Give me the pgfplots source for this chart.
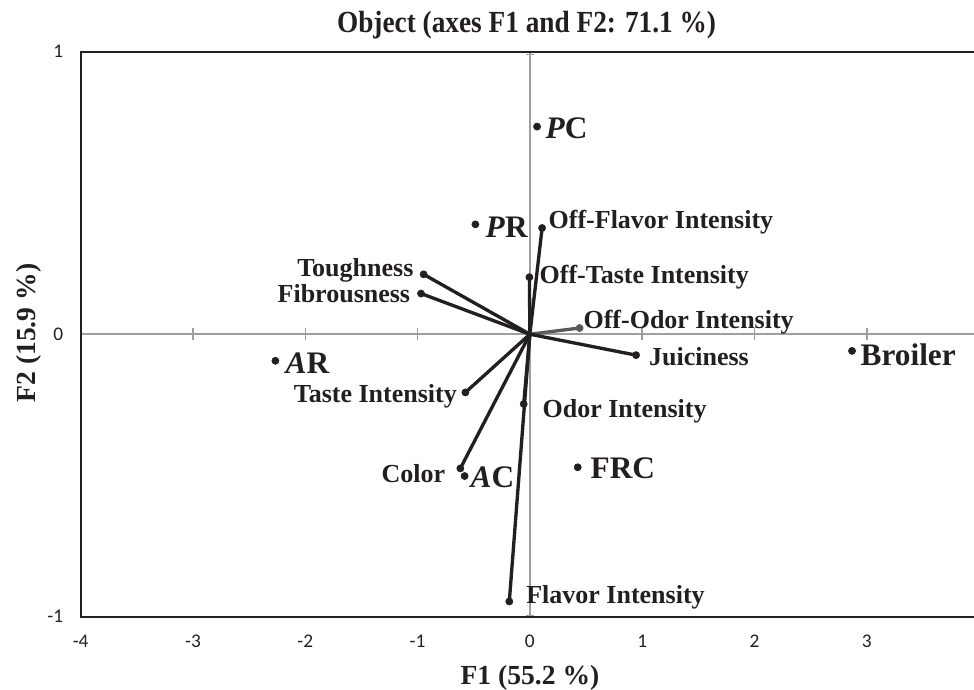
\documentclass[border=0pt]{standalone}
\usepackage{fontspec}
\setmainfont{Liberation Serif}
\newfontfamily\tickfont{Carlito}
\usepackage{pgfplots}
\pgfplotsset{compat=1.18}
\definecolor{ink}{HTML}{231F20}
\definecolor{zline}{HTML}{9D9FA2}
\definecolor{odor}{HTML}{58595B}
\pgfplotsset{
  vec/.style={ink, line width=2.5pt, line cap=round, mark=*, mark indices={2}, mark size=2.7pt, mark options={line width=0.4pt, fill=ink, draw=ink}},
}
\tikzset{
  varlab/.style={inner sep=0pt, text=ink, font=\fontsize{19.5}{20}\selectfont\bfseries},
  smplab/.style={inner sep=0pt, text=ink, font=\fontsize{23.5}{24}\selectfont\bfseries},
}
\begin{document}
\begin{tikzpicture}
\begin{axis}[
  at={(60.5pt,54.2pt)}, anchor=south west,
  scale only axis, width=670pt, height=423.75pt,
  xmin=-4, xmax=3.955, ymin=-1, ymax=1,
  xtick={-4,-3,-2,-1,0,1,2,3}, ytick={-1,0,1},
  axis line style={draw=none}, major tick style={draw=none}, minor tick num=0,
  /pgf/number format/assume math mode=true,
  tick label style={font=\tickfont\fontsize{14.5}{14.5}\selectfont, text=ink, inner sep=0pt},
  xticklabel style={anchor=center, yshift=-18.6pt},
  yticklabel style={anchor=east, xshift=-13pt},
  clip=false,
]
% zero lines
\draw[zline, line width=1.4pt] (axis cs:-4,0) -- (axis cs:3.955,0);
\draw[zline, line width=1.4pt] (axis cs:0,-1) -- (axis cs:0,1);
\draw[zline, line width=1.1pt] (axis cs:-3,-0.021) -- (axis cs:-3,0.021);
\draw[zline, line width=1.1pt] (axis cs:-2,-0.021) -- (axis cs:-2,0.021);
\draw[zline, line width=1.1pt] (axis cs:-1,-0.021) -- (axis cs:-1,0.021);
\draw[zline, line width=1.1pt] (axis cs:1,-0.021) -- (axis cs:1,0.021);
\draw[zline, line width=1.1pt] (axis cs:2,-0.021) -- (axis cs:2,0.021);
\draw[zline, line width=1.1pt] (axis cs:3,-0.021) -- (axis cs:3,0.021);
\draw[zline, line width=1.1pt] (axis cs:-0.035,0.99) -- (axis cs:0.035,0.99);
\draw[zline, line width=1.1pt] (axis cs:-0.035,-0.995) -- (axis cs:0.035,-0.995);

% variable vectors
\addplot[vec] coordinates {(0,0) (0.109,0.376)};   % Off-Flavor Intensity
\addplot[vec] coordinates {(0,0) (-0.004,0.202)};  % Off-Taste Intensity
\addplot[vec, odor, mark options={line width=0.4pt, fill=odor, draw=odor}] coordinates {(0,0) (0.443,0.022)};  % Off-Odor Intensity
\addplot[vec] coordinates {(0,0) (0.946,-0.074)};  % Juiciness
\addplot[vec] coordinates {(0,0) (-0.055,-0.247)}; % Odor Intensity
\addplot[vec] coordinates {(0,0) (-0.183,-0.946)}; % Flavor Intensity
\addplot[vec] coordinates {(0,0) (-0.619,-0.475)}; % Color
\addplot[vec] coordinates {(0,0) (-0.574,-0.206)}; % Taste Intensity
\addplot[vec] coordinates {(0,0) (-0.946,0.212)};  % Toughness
\addplot[vec] coordinates {(0,0) (-0.969,0.144)};  % Fibrousness

% objects
\addplot[only marks, mark=*, ink, mark size=2.7pt] coordinates {
  (0.064,0.735) (-0.485,0.389) (-2.266,-0.094) (-0.581,-0.502) (0.426,-0.471) (2.869,-0.059)};

% frame
\draw[ink, line width=1.5pt] (axis cs:3.955,1) -- (axis cs:-4,1) -- (axis cs:-4,-1) -- (axis cs:3.955,-1);

% object labels
\node[smplab, anchor=base west] at (axis cs:0.138,0.693) {\textit{P}C};
\node[smplab, anchor=base west] at (axis cs:-0.396,0.343) {\textit{P}R};
\node[smplab, anchor=base west] at (axis cs:-2.177,-0.138) {\textit{A}R};
\node[smplab, anchor=base west] at (axis cs:-0.530,-0.544) {\textit{A}C};
\node[smplab, anchor=base west] at (axis cs:0.539,-0.512) {FRC};
\node[smplab, anchor=base west] at (axis cs:2.943,-0.110) {Broiler};

% variable labels
\node[varlab, anchor=base west] at (axis cs:0.165,0.375) {Off-Flavor Intensity};
\node[varlab, anchor=base west] at (axis cs:0.085,0.180) {Off-Taste Intensity};
\node[varlab, anchor=base west] at (axis cs:0.476,0.021) {Off-Odor Intensity};
\node[varlab, anchor=base west] at (axis cs:1.06,-0.110) {Juiciness};
\node[varlab, anchor=base west] at (axis cs:0.111,-0.293) {Odor Intensity};
\node[varlab, anchor=base west] at (axis cs:-0.034,-0.952) {Flavor Intensity};
\node[varlab, anchor=base east] at (axis cs:-0.752,-0.525) {Color};
\node[varlab, anchor=base east] at (axis cs:-0.648,-0.243) {Taste Intensity};
\node[varlab, anchor=base east] at (axis cs:-1.035,0.205) {Toughness};
\node[varlab, anchor=base east] at (axis cs:-1.064,0.111) {Fibrousness};
\end{axis}
% titles
\node[anchor=base, inner sep=0pt, text=ink, font=\fontsize{23}{24}\selectfont\bfseries] at (394.9pt,492pt) {\scalebox{0.89}[1]{Object (axes F1 and F2: 71.1 \%)}};
\node[anchor=base, inner sep=0pt, text=ink, font=\fontsize{20.7}{21}\selectfont\bfseries] at (397.5pt,3.6pt) {F1 (55.2 \%)};
\node[anchor=base, inner sep=0pt, rotate=90, text=ink, font=\fontsize{20.7}{21}\selectfont\bfseries] at (26.25pt,267pt) {F2 (15.9 \%)};
\pgfresetboundingbox
\useasboundingbox (0,0) rectangle (730.5pt,516.75pt);
\end{tikzpicture}
\end{document}
